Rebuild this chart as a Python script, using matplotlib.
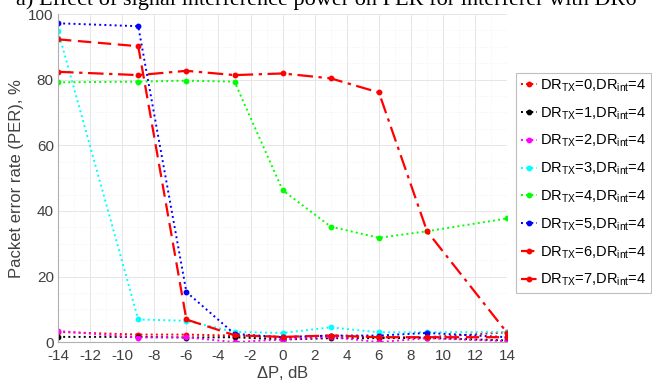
import numpy as np
import matplotlib
matplotlib.use('Agg')
import matplotlib.pyplot as plt
from matplotlib.ticker import MultipleLocator

plt.rcParams['font.family'] = ['Liberation Sans', 'DejaVu Sans']
plt.rcParams['mathtext.default'] = 'regular'
plt.rcParams['axes.unicode_minus'] = False

dp = [-14, -9, -6, -3, 0, 3, 6, 9, 14]
per_dr0 = [3.1, 2.3, 2.3, 2.0, 1.5, 2.0, 1.5, 1.5, 3.0]
per_dr1 = [1.6, 1.6, 1.4, 1.5, 0.8, 1.2, 1.2, 1.3, 0.5]
per_dr2 = [3.4, 1.4, 1.5, 0.0, 0.8, 1.6, 0.0, 1.2, 0.3]
per_dr3 = [94.9, 6.9, 6.5, 3.1, 2.8, 4.5, 3.0, 3.0, 3.1]
per_dr4 = [79.2, 79.4, 79.7, 79.4, 46.3, 35.2, 31.8, 33.8, 37.7]
per_dr5 = [97.2, 96.3, 15.3, 2.5, 1.5, 2.0, 2.0, 2.8, 1.5]
per_dr6 = [92.3, 90.2, 6.9, 2.1, 1.6, 2.0, 1.5, 1.5, 1.5]
per_dr7 = [82.4, 81.4, 82.7, 81.4, 81.9, 80.4, 76.1, 33.8, 2.8]

series = [per_dr0, per_dr1, per_dr2, per_dr3, per_dr4, per_dr5, per_dr6, per_dr7]
colors = ['#ff0000', '#000000', '#ff00ff', '#00ffff', '#00ff00', '#0000ff', '#ff0000', '#ff0000']
styles = [':', ':', ':', ':', ':', ':', '--', '-.']

fig = plt.figure(figsize=(6.52, 3.91), dpi=100)
ax = fig.add_axes([0.089, 0.125, 0.689, 0.839])

for i, (y, c, ls) in enumerate(zip(series, colors, styles)):
    if ls == ':':
        ax.plot(dp, y, linestyle=ls, color=c, marker='o', markersize=3.2, lw=1.4,
                label=r'DR$_{TX}$=%d,DR$_{int}$=4' % i)
    else:
        ax.plot(dp, y, linestyle=ls, color=c, marker='o', markersize=3.2, lw=1.6,
                dashes=(6, 3) if ls == '--' else (7, 2.5, 1.5, 2.5),
                label=r'DR$_{TX}$=%d,DR$_{int}$=4' % i)

ax.set_xlim(-14, 14)
ax.set_ylim(0, 100)
ax.xaxis.set_major_locator(MultipleLocator(2))
ax.yaxis.set_major_locator(MultipleLocator(20))
ax.xaxis.set_minor_locator(MultipleLocator(1))
ax.yaxis.set_minor_locator(MultipleLocator(5))
ax.grid(True, which='major', color='#e6e6e6', lw=0.7)
ax.grid(True, which='minor', color='#f0f0f0', lw=0.6, ls=':')
ax.set_axisbelow(True)
ax.tick_params(axis='x', which='both', length=0, labelsize=11, colors='#404040', pad=5)
ax.tick_params(axis='y', which='both', length=0, labelsize=11, colors='#404040', pad=3)
for s in ['top', 'right']:
    ax.spines[s].set_visible(False)
for s in ['left', 'bottom']:
    ax.spines[s].set_color('#b0b0b0')

ax.set_xlabel(r'$\Delta$P, dB', fontsize=12, color='#404040', labelpad=1)
ax.set_ylabel('Packet error rate (PER), %', fontsize=12, color='#404040', labelpad=3)

leg = ax.legend(loc='upper left', bbox_to_anchor=(1.02, 0.82), fontsize=10.5,
                frameon=True, fancybox=False, edgecolor='#b0b0b0',
                handlelength=1.1, handletextpad=0.25, borderpad=0.3, labelspacing=0.78,
                borderaxespad=0)
leg.get_frame().set_linewidth(0.8)

fig.text(0.5, 1 - 5 / 391, 'a) Effect of signal interference power on PER for interferer with DR6',
         family='Liberation Serif', fontsize=16, ha='center', va='baseline')

fig.savefig('out.png', dpi=100)
